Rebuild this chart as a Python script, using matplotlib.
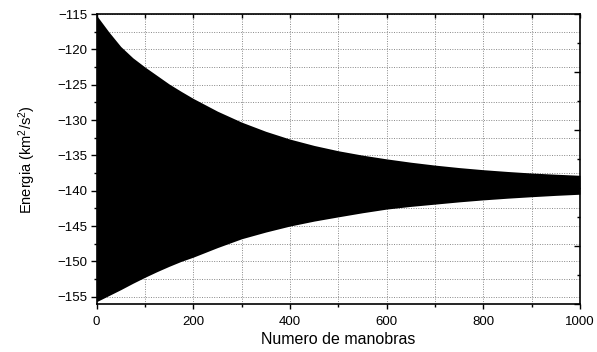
import numpy as np
import matplotlib.pyplot as plt
from matplotlib.ticker import MultipleLocator, NullFormatter

plt.rcParams['font.family'] = ['Liberation Sans', 'DejaVu Sans']
plt.rcParams['mathtext.fontset'] = 'custom'
plt.rcParams['mathtext.rm'] = 'Liberation Sans'
plt.rcParams['mathtext.it'] = 'Liberation Sans'

# envelope of the oscillating energy (upper / lower extremes)
manobras = [0, 25, 50, 75, 100, 125, 150, 175, 200, 250, 300, 350, 400, 450,
            500, 550, 600, 650, 700, 750, 800, 850, 900, 950, 1000]
energia_max = [-115.2, -117.5, -119.6, -121.2, -122.5, -123.7, -124.9, -125.95,
               -126.95, -128.75, -130.3, -131.6, -132.7, -133.6, -134.35,
               -134.97, -135.5, -135.97, -136.38, -136.73, -137.03, -137.28,
               -137.5, -137.67, -137.82]
energia_min = [-155.7, -154.85, -154.0, -153.1, -152.25, -151.45, -150.7, -150.0,
               -149.4, -148.05, -146.8, -145.85, -145.0, -144.3, -143.7,
               -143.12, -142.6, -142.22, -141.9, -141.58, -141.3, -141.06,
               -140.85, -140.66, -140.5]

fig = plt.figure(figsize=(5.97, 3.52), dpi=100)
ax = fig.add_axes([0.1618, 0.135, 0.9715 - 0.1618, 0.9602 - 0.135])

ax.fill_between(manobras, energia_min, energia_max, color='black', lw=0, zorder=3)

ax.set_xlim(0, 1000)
ax.set_ylim(-156.1, -115)
ax.xaxis.set_major_locator(MultipleLocator(200))
ax.xaxis.set_minor_locator(MultipleLocator(100))
ax.yaxis.set_major_locator(MultipleLocator(5))
ax.yaxis.set_minor_locator(MultipleLocator(2.5))

ax.grid(True, which='both', linestyle=(0, (1, 1.5)), color='#888888', lw=0.7, zorder=1)
ax.set_axisbelow(True)

ax.tick_params(axis='x', which='major', direction='out', length=3.5, width=1, labelsize=9.5, pad=4.5)
ax.tick_params(axis='x', which='minor', direction='out', length=2, width=1)
ax.tick_params(axis='y', which='major', direction='out', length=4.5, width=1, labelsize=9.5, pad=2)
ax.tick_params(axis='y', which='minor', direction='out', length=2.5, width=1)

for s in ax.spines.values():
    s.set_linewidth(1.2)
    s.set_zorder(5)

ax.set_xlabel('Numero de manobras', fontsize=11.5, labelpad=3)
ax.set_ylabel('Energia (km$^2$/s$^2$)', fontsize=10.5, labelpad=14)

# right-hand axis: inward ticks only
axr = ax.twinx()
axr.set_ylim(0, 10)
axr.yaxis.set_major_locator(MultipleLocator(2))
axr.yaxis.set_minor_locator(MultipleLocator(1))
axr.yaxis.set_major_formatter(NullFormatter())
axr.tick_params(axis='y', which='major', direction='in', length=4.5, width=1)
axr.tick_params(axis='y', which='minor', direction='in', length=2.5, width=1)
for s in axr.spines.values():
    s.set_visible(False)

# top axis: inward ticks only
axt = ax.twiny()
axt.set_xlim(0, 1000)
axt.xaxis.set_major_locator(MultipleLocator(100))
axt.xaxis.set_major_formatter(NullFormatter())
axt.tick_params(axis='x', which='major', direction='in', length=3, width=1)
for s in axt.spines.values():
    s.set_visible(False)

fig.savefig('out.png', dpi=100)
